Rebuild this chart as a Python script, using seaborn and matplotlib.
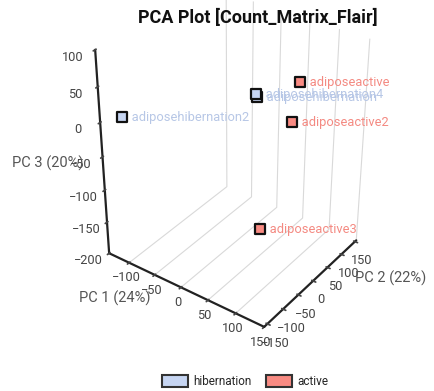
import numpy as np
import pandas as pd
import matplotlib
matplotlib.use("Agg")
import matplotlib.pyplot as plt
from matplotlib.patches import Patch
import seaborn as sns

# PCA scores
samples = ["adiposehibernation2", "adiposehibernation4", "adiposehibernation",
           "adiposeactive", "adiposeactive2", "adiposeactive3"]
groups = ["hibernation", "hibernation", "hibernation", "active", "active", "active"]
pc1 = [-130, -7, -5, 91, 127, 38]
pc2 = [-116, 88, 88, 48, -44, 27]
pc3 = [-4, -1, -5, 57, 43, -171]

var_pct = [24, 22, 20]
x_ticks = [-100, -50, 0, 50, 100, 150]
y_ticks = [-150, -100, -50, 0, 50, 100, 150]
z_ticks = [-200, -150, -100, -50, 0, 50, 100]

df = pd.DataFrame({"sample": samples, "group": groups,
                   "PC1": pc1, "PC2": pc2, "PC3": pc3})

sns.set_theme(style="white")
plt.rcParams["font.family"] = ["Roboto", "DejaVu Sans"]

palette = {"hibernation": "#c6d5f2", "active": "#f98b83"}
text_col = {"hibernation": "#b7c7e6", "active": "#f48a82"}

fig = plt.figure(figsize=(4.34, 3.91), dpi=100)
ax = fig.add_axes([0.028, 0.183, 1.0, 0.84], projection="3d")
ax.set_proj_type("persp", focal_length=0.7)
ax.view_init(elev=33, azim=-54)

for g in ["hibernation", "active"]:
    sub = df[df["group"] == g]
    ax.scatter(sub["PC1"], sub["PC2"], sub["PC3"], marker="s", s=62,
               c=palette[g], edgecolors="#111111", linewidths=1.6,
               depthshade=False, alpha=1)
for _, r in df.iterrows():
    ax.text(r["PC1"], r["PC2"], r["PC3"], "   " + r["sample"],
            color=text_col[r["group"]], fontsize=9.3, va="center")

ax.set_xlim(-140, 150)
ax.set_ylim(-160, 155)
ax.set_zlim(-200, 100)
ax.set_xticks(x_ticks)
ax.set_yticks(y_ticks)
ax.set_zticks(z_ticks)
ax.set_box_aspect((1.27, 1.1, 1.55), zoom=1.05)
ax.zaxis.set_ticks_position("lower")

for axis in [ax.xaxis, ax.yaxis, ax.zaxis]:
    axis.set_pane_color((1, 1, 1, 0))
    axis.pane.set_edgecolor((1, 1, 1, 0))
    axis.line.set_color("#222222")
    axis.line.set_linewidth(1.6)
    axis._axinfo["grid"]["color"] = (0.85, 0.85, 0.85, 1)
    axis._axinfo["grid"]["linewidth"] = 0.8
ax.yaxis._axinfo["grid"]["color"] = (1, 1, 1, 0)
ax.zaxis._axinfo["grid"]["color"] = (1, 1, 1, 0)
ax.tick_params(labelsize=9.2, colors="#444444")
ax.tick_params(axis="x", pad=-4)
ax.tick_params(axis="y", pad=-2)
ax.tick_params(axis="z", pad=2)

# axis titles, placed flat like the reference
fig.text(0.265, 0.238, f"PC 1 ({var_pct[0]}%)", ha="center", va="center",
         fontsize=10.5, color="#555555")
fig.text(0.90, 0.289, f"PC 2 ({var_pct[1]}%)", ha="center", va="center",
         fontsize=10.5, color="#555555")
fig.text(0.11, 0.583, f"PC 3 ({var_pct[2]}%)", ha="center", va="center",
         fontsize=10.5, color="#555555")

fig.text(0.595, 0.953, "PCA Plot [Count_Matrix_Flair]", ha="center", va="center",
         fontsize=13, fontweight="bold", color="#111111")

handles = [Patch(facecolor=palette[g], edgecolor="#333333", linewidth=1.5, label=g)
           for g in ["hibernation", "active"]]
fig.legend(handles=handles, loc="center", bbox_to_anchor=(0.565, 0.025), ncol=2,
           frameon=False, fontsize=8.5, handlelength=2.2, handleheight=1.2,
           columnspacing=1.2, handletextpad=0.5)

fig.savefig("out.png", dpi=100)
